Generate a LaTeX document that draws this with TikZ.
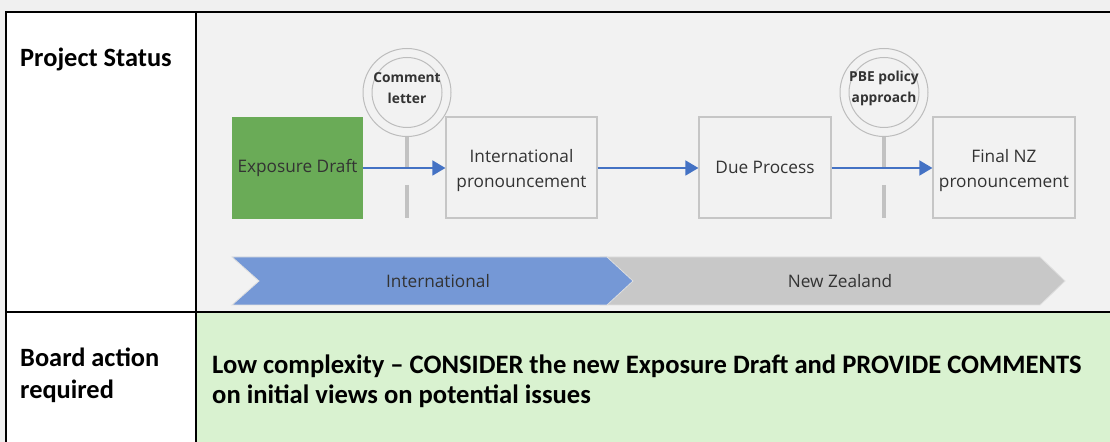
\documentclass[tikz,border=0pt]{standalone}
\usepackage{fontspec}
\setmainfont{Carlito}
\newfontfamily\diagfont{Open Sans}
\usetikzlibrary{arrows.meta}

\definecolor{pagegray}{HTML}{F0F0F0}
\definecolor{cellgray}{HTML}{F2F2F2}
\definecolor{actiongreen}{HTML}{D9F2D0}
\definecolor{draftgreen}{HTML}{6AAB57}
\definecolor{flowblue}{HTML}{4472C4}
\definecolor{bandblue}{HTML}{7598D6}
\definecolor{bandgray}{HTML}{C8C8C8}
\definecolor{boxedge}{HTML}{C6C6C6}
\definecolor{ringgray}{HTML}{BDBDBD}
\definecolor{stemgray}{HTML}{C2C2C2}
\definecolor{textgray}{HTML}{333333}

% extra room above the first line of a two-line stage label
\newcommand{\toppad}{\rule{0pt}{19bp}}

\tikzset{
  rule/.style={line width=2.5bp, black},
  celltext/.style={font=\bfseries\fontsize{26.5}{32}\selectfont, anchor=west, align=left, inner sep=0},
  stagebox/.style={draw=boxedge, line width=1.2bp, fill=cellgray, align=center,
    inner sep=0, text=textgray, font=\diagfont\fontsize{17.3}{25}\selectfont},
  draftbox/.style={stagebox, fill=draftgreen, draw=draftgreen},
  flow/.style={draw=flowblue, line width=1.6bp, -{Triangle[length=13bp, width=15bp]}},
  ring/.style={draw=ringgray, line width=1bp},
  marker/.style={inner sep=0, align=center,
    font=\diagfont\bfseries\fontsize{13.8}{21}\selectfont, text=textgray},
  stem/.style={draw=stemgray, line width=4bp},
  band/.style={draw=white!75!gray, line width=0.8bp},
  bandtext/.style={font=\diagfont\fontsize{17.3}{20}\selectfont, text=textgray}
}

\begin{document}
\begin{tikzpicture}[x=1bp, y=-1bp]
\useasboundingbox (0,0) rectangle (1110,442);

% page and table cells
\fill[pagegray] (0,0) rectangle (1110,442);
\fill[white] (6,12) rectangle (196,442);
\fill[cellgray] (196,12) rectangle (1110,312);
\fill[actiongreen] (196,312) rectangle (1110,442);

% table rules
\draw[rule] (6,442) -- (6,12) -- (1110,12);
\draw[rule] (196,12) -- (196,442);
\draw[rule] (6,312) -- (1110,312);

% row headings
\node[celltext] (status) at (20,59) {Project Status};
\node[celltext] (board) at (20,375) {Board action\\required};
\node[celltext, font=\bfseries\fontsize{26.7}{30}\selectfont] (action) at (212,381) {Low complexity – CONSIDER the new Exposure Draft and PROVIDE COMMENTS\\on initial views on potential issues};

% milestone stems (drawn first, the flow arrows pass over them)
\coordinate (clRing) at (407,92.5);
\coordinate (clTop) at (407,136);
\coordinate (clMid) at (407,168);
\coordinate (clLow) at (407,185);
\coordinate (clEnd) at (407,218);
\coordinate (pbeRing) at (884,92.5);
\coordinate (pbeTop) at (884,136);
\coordinate (pbeMid) at (884,168);
\coordinate (pbeLow) at (884,185);
\coordinate (pbeEnd) at (884,218);
\draw[stem] (clTop) -- (clMid);
\draw[stem] (clLow) -- (clEnd);
\draw[stem] (pbeTop) -- (pbeMid);
\draw[stem] (pbeLow) -- (pbeEnd);

% milestone markers: double ring with a label
\draw[ring] (clRing) circle[radius=35bp] (clRing) circle[radius=44bp];
\node[marker] (comment) at (407,88.5) {Comment\\letter};
\draw[ring] (pbeRing) circle[radius=35bp] (pbeRing) circle[radius=44bp];
\node[marker] (pbe) at (884,88) {PBE policy\\approach};

% stages
\node[draftbox, minimum width=129bp, minimum height=100bp] (draft) at (297.5,168) {Exposure Draft};
\node[stagebox, minimum width=151bp, minimum height=101bp] (intl) at (521.5,167.5) {\toppad International\\pronouncement};
\node[stagebox, minimum width=132bp, minimum height=101bp] (due) at (765,167.5) {Due Process};
\node[stagebox, minimum width=142bp, minimum height=101bp] (final) at (1004,167.5) {\toppad Final NZ\\pronouncement};

% flow
\draw[flow] (draft.east |- 0,168) -- (intl.west |- 0,168);
\draw[flow] (intl.east |- 0,168) -- (due.west |- 0,168);
\draw[flow] (due.east |- 0,168) -- (final.west |- 0,168);

% jurisdiction band
\draw[band, fill=bandgray] (600,257) -- (1040,257) -- (1065,281) -- (1040,305) -- (600,305) -- cycle;
\draw[band, fill=bandblue] (232,257) -- (607,257) -- (633,281) -- (607,305) -- (232,305) -- (259,281) -- cycle;
\node[bandtext] (intlband) at (438,281.5) {International};
\node[bandtext] (nzband) at (840,281.5) {New Zealand};
\end{tikzpicture}
\end{document}
